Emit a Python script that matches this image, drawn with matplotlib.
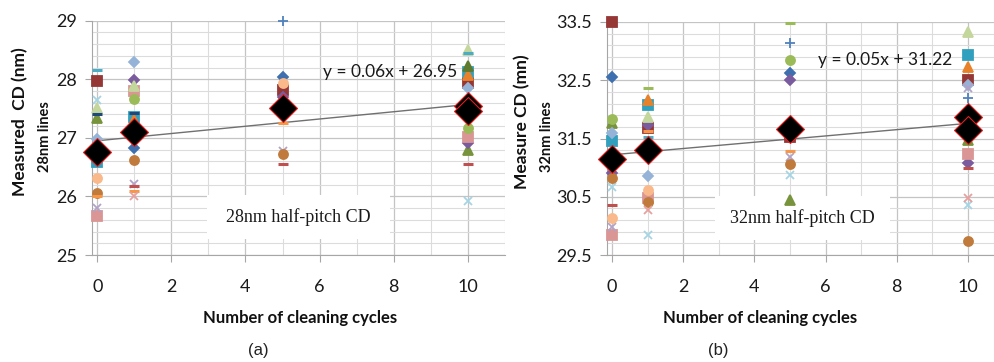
import numpy as np
import matplotlib.pyplot as plt
from matplotlib.patches import Rectangle

nan = np.nan
W, H = 995, 362

# x positions (number of cleaning cycles)
CYCLES = [0, 1, 5, 10]

# one sample series per entry (Excel 2010 style markers)
SERIES_COLORS = ["#3E6FAE", "#953735", "#77933C", "#7A5C9E", "#31A0BE", "#E8822A",
                 "#95B3D7", "#D99694", "#C3D69B", "#B3A2C7", "#A5D5E5", "#FAB98A",
                 "#C07B3C", "#9BBB59", "#C0504D", "#F79646", "#4BACC6", "#4F81BD",
                 "#9BBB59", "#1F497D", "#5E7A2C", "#E6A0A0"]
SERIES_MARKERS = ["D", "s", "^", "D", "s", "^", "D", "s", "^", "x", "x", "o",
                  "o", "o", "_", "_", "_", "+", "_", "_", "^", "x"]

# measured CD, 28nm lines (rows follow SERIES_*, columns follow CYCLES)
CD28 = [
    [nan, 26.82, 28.04, nan],
    [27.97, nan, 27.82, 27.94],
    [27.34, nan, nan, 26.80],
    [nan, 27.99, 27.70, 26.91],
    [26.58, 27.36, nan, 28.13],
    [nan, 27.31, nan, 28.08],
    [26.98, 28.30, nan, 27.85],
    [25.66, 27.80, nan, 27.02],
    [27.51, 27.89, nan, 28.50],
    [25.80, 26.22, 26.77, nan],
    [27.65, nan, nan, 25.92],
    [26.32, nan, 27.94, 27.36],
    [26.06, 26.63, 26.72, nan],
    [nan, 27.67, nan, 27.17],
    [nan, 26.17, 26.55, 26.55],
    [26.00, 26.10, 27.26, nan],
    [28.15, nan, nan, 28.45],
    [nan, nan, 29.00, nan],
    [nan, nan, nan, nan],
    [27.41, 27.43, nan, nan],
    [nan, nan, nan, 28.22],
    [nan, 26.00, nan, nan],
]

# measured CD, 32nm lines
CD32 = [
    [32.56, nan, 32.63, nan],
    [33.50, 31.68, 31.53, 32.50],
    [31.76, nan, 30.44, 31.48],
    [30.90, 31.73, 32.50, 31.08],
    [31.45, 32.08, nan, 32.93],
    [nan, 32.16, nan, 32.73],
    [31.59, 30.86, nan, 32.42],
    [29.84, 30.47, nan, 31.24],
    [nan, 31.87, nan, 33.33],
    [29.98, nan, 31.19, 32.36],
    [30.67, 29.84, 30.87, 30.36],
    [30.13, 30.62, nan, nan],
    [30.82, 30.41, 31.06, 29.74],
    [31.83, nan, 32.85, nan],
    [30.36, nan, nan, 31.00],
    [nan, 31.63, 31.28, 32.00],
    [nan, 31.53, nan, nan],
    [nan, nan, 33.14, 32.19],
    [nan, 32.37, 33.48, nan],
    [nan, nan, nan, nan],
    [nan, nan, nan, nan],
    [nan, 30.27, nan, 30.48],
]

# averages (black diamonds); a second average shown at 10 cycles
MEAN28 = [26.75, 27.10, 27.51, 27.55]
MEAN28_B = [nan, nan, nan, 27.45]
MEAN32 = [31.14, 31.30, 31.66, 31.87]
MEAN32_B = [nan, nan, nan, 31.65]

# linear trendlines
TREND_X = [0, 10]
TREND28 = [26.95, 27.57]
TREND32 = [31.22, 31.76]

SIZES = {"D": 5.5, "s": 6.5, "^": 7, "x": 6, "o": 6.5, "_": 7, "+": 7}

plt.rcParams["font.family"] = ["Lato", "DejaVu Sans"]

fig = plt.figure(figsize=(W / 100, H / 100), dpi=100)


def px_box(x0, x1, ytop, ybot):
    return [x0 / W, 1 - ybot / H, (x1 - x0) / W, (ybot - ytop) / H]


def draw_panel(ax, data, mean_a, mean_b, trend, ylim, yticks, eq, eq_xy, box, label):
    for vals, c, m in zip(data, SERIES_COLORS, SERIES_MARKERS):
        mew = 2.2 if m in "_" else 1.3
        ax.plot(CYCLES, vals, ls="none", marker=m, ms=SIZES[m], color=c,
                mec=c, mew=mew, zorder=3, clip_on=False)
    ax.plot(TREND_X, trend, color="#707070", lw=1.0, zorder=2)
    for mv in (mean_a, mean_b):
        ax.plot(CYCLES, mv, ls="none", marker="D", ms=14, color="black",
                mec="#E02020", mew=0.8, zorder=5, clip_on=False)

    ax.set_xlim(-0.14, 11.0)
    ax.set_ylim(*ylim)
    ax.set_xticks([0, 2, 4, 6, 8, 10])
    ax.set_xticks(range(0, 12), minor=True)
    ax.set_yticks(yticks)
    ax.set_yticks(np.arange(ylim[0], ylim[1] + 0.01, 0.2), minor=True)
    ax.grid(True, which="major", color="#C4C4C4", lw=0.9)
    ax.grid(True, which="minor", color="#DCDCDC", lw=0.8)
    ax.set_axisbelow(True)
    for s in ("top", "right"):
        ax.spines[s].set_visible(False)
    for s in ("left", "bottom"):
        ax.spines[s].set_color("#A6A6A6")
    ax.tick_params(which="major", length=5, color="#A6A6A6", labelsize=13,
                   labelcolor="#1A1A1A")
    ax.tick_params(axis="x", which="major", pad=12)
    ax.tick_params(axis="y", which="major", pad=6)
    ax.tick_params(which="minor", length=0)

    bx0, bx1, by0, by1 = box
    ax.add_patch(Rectangle((bx0, by0), bx1 - bx0, by1 - by0, facecolor="white",
                           edgecolor="none", zorder=2.5))
    ax.text((bx0 + bx1) / 2, (by0 + by1) / 2, label, ha="center", va="center",
            fontsize=13, family="Liberation Serif", color="#1A1A1A", zorder=6)
    ax.text(eq_xy[0], eq_xy[1], eq, ha="left", va="center", fontsize=12.5,
            color="#1A1A1A", zorder=6)


ax1 = fig.add_axes(px_box(92, 505, 20.7, 255))
draw_panel(ax1, CD28, MEAN28, MEAN28_B, TREND28, (25, 29), [25, 26, 27, 28, 29],
           "y = 0.06x + 26.95", (6.1, 28.13), (2.95, 7.9, 25.27, 26.02),
           "28nm half-pitch CD")

ax2 = fig.add_axes(px_box(607, 995, 22, 255))
draw_panel(ax2, CD32, MEAN32, MEAN32_B, TREND32, (29.5, 33.5),
           [29.5, 30.5, 31.5, 32.5, 33.5],
           "y = 0.05x + 31.22", (5.8, 32.85), (2.9, 7.8, 29.75, 30.52),
           "32nm half-pitch CD")
ax2.set_xlim(-0.14, 10.76)
ax2.set_yticklabels(["29.5", "30.5", "31.5", "32.5", "33.5"])

# axis titles
fig.text(20 / W, 1 - 122 / H, "Measured  CD (nm)", rotation=90, ha="center",
         va="center", fontsize=12.5, fontweight="bold", color="#111111")
fig.text(45 / W, 1 - 137 / H, "28nm lines", rotation=90, ha="center",
         va="center", fontsize=10.5, fontweight="bold", color="#111111")
fig.text(522 / W, 1 - 122 / H, "Measure CD (mn)", rotation=90, ha="center",
         va="center", fontsize=12.5, fontweight="bold", color="#111111")
fig.text(547 / W, 1 - 137 / H, "32nm lines", rotation=90, ha="center",
         va="center", fontsize=10.5, fontweight="bold", color="#111111")
fig.text(300 / W, 1 - 318 / H, "Number of cleaning cycles", ha="center",
         va="center", fontsize=12, fontweight="bold", color="#111111")
fig.text(760 / W, 1 - 318 / H, "Number of cleaning cycles", ha="center",
         va="center", fontsize=12, fontweight="bold", color="#111111")
fig.text(258 / W, 1 - 351 / H, "(a)", ha="center", va="center", fontsize=12,
         family="Liberation Sans", color="#222222")
fig.text(718 / W, 1 - 351 / H, "(b)", ha="center", va="center", fontsize=12,
         family="Liberation Sans", color="#222222")

fig.savefig("out.png", dpi=100)
